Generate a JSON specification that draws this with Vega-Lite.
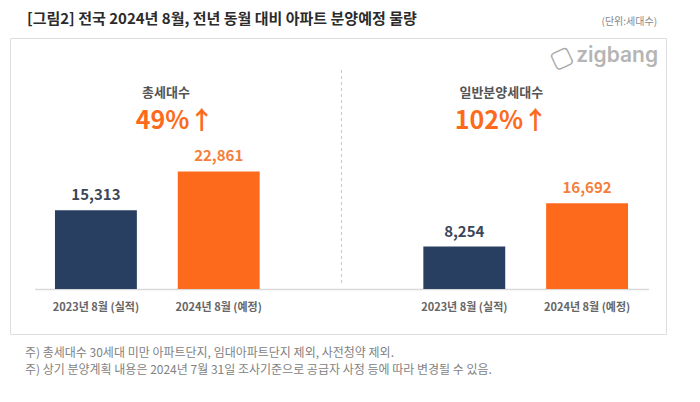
{
  "$schema": "https://vega.github.io/schema/vega-lite/v6.json",
  "width": 656,
  "height": 296,
  "autosize": {"type": "none"},
  "padding": {"left": 10, "top": 38, "right": 34, "bottom": 68},
  "background": "white",
  "view": {"stroke": "#dedede", "strokeWidth": 1},
  "config": {"font": "Noto Sans CJK KR"},
  "title": {
    "text": "[그림2] 전국 2024년 8월, 전년 동월 대비 아파트 분양예정 물량",
    "anchor": "start",
    "frame": "group",
    "dx": 17,
    "dy": 21,
    "offset": 11,
    "fontSize": 15,
    "fontWeight": "bold",
    "font": "Noto Sans CJK KR",
    "color": "#2b2b2b"
  },
  "datasets": {
    "bars": [
      {"key": "총세대수|2023년 8월 (실적)", "panel": "총세대수", "period": "2023년 8월 (실적)", "value": 15313},
      {"key": "총세대수|2024년 8월 (예정)", "panel": "총세대수", "period": "2024년 8월 (예정)", "value": 22861},
      {"key": "일반분양세대수|2023년 8월 (실적)", "panel": "일반분양세대수", "period": "2023년 8월 (실적)", "value": 8254},
      {"key": "일반분양세대수|2024년 8월 (예정)", "panel": "일반분양세대수", "period": "2024년 8월 (예정)", "value": 16692}
    ],
    "headers": [
      {"key": "총세대수|2023년 8월 (실적)", "panel": "총세대수", "pct": "49%↑"},
      {"key": "일반분양세대수|2023년 8월 (실적)", "panel": "일반분양세대수", "pct": "102%↑"}
    ]
  },
  "encoding": {
    "x": {
      "field": "key",
      "type": "nominal",
      "sort": null,
      "scale": {
        "type": "band",
        "domain": ["총세대수|2023년 8월 (실적)", "총세대수|2024년 8월 (예정)", "gap|", "일반분양세대수|2023년 8월 (실적)", "일반분양세대수|2024년 8월 (예정)"],
        "range": [24.5, 638.5],
        "paddingInner": 0.333,
        "paddingOuter": 0.1667
      },
      "axis": {
        "orient": "bottom",
        "offset": -45,
        "title": null,
        "ticks": false,
        "grid": false,
        "domainColor": "#d9d9d9",
        "domainWidth": 1.5,
        "labelAngle": 0,
        "labelExpr": "split(datum.value, '|')[1]",
        "labelFont": "Noto Sans CJK KR",
        "labelFontSize": 11,
        "labelFontWeight": "bold",
        "labelColor": "#666666",
        "labelPadding": 12
      }
    },
    "y": {
      "type": "quantitative",
      "scale": {"domain": [-8750, 48800], "nice": false, "zero": false},
      "axis": null
    }
  },
  "layer": [
    {
      "data": {"name": "bars"},
      "mark": {"type": "bar"},
      "encoding": {
        "y": {"field": "value", "type": "quantitative"},
        "color": {
          "field": "period",
          "type": "nominal",
          "scale": {"domain": ["2023년 8월 (실적)", "2024년 8월 (예정)"], "range": ["#283f61", "#fd6a1b"]},
          "legend": null
        }
      }
    },
    {
      "data": {"name": "bars"},
      "mark": {"type": "text", "baseline": "middle", "dy": -15, "fontSize": 15, "fontWeight": "bold", "font": "Noto Sans CJK KR"},
      "encoding": {
        "y": {"field": "value", "type": "quantitative"},
        "text": {"field": "value", "type": "quantitative", "format": ","},
        "color": {
          "condition": {"test": "datum.period == '2023년 8월 (실적)'", "value": "#3b4758"},
          "value": "#f47f3a"
        }
      }
    },
    {
      "data": {"name": "headers"},
      "transform": [{"filter": "datum.panel == '총세대수'"}],
      "mark": {"type": "text", "baseline": "middle", "align": "center", "dx": 70, "fontSize": 13, "fontWeight": "bold", "color": "#555555"},
      "encoding": {
        "y": {"datum": 38102},
        "text": {"field": "panel", "type": "nominal"}
      }
    },
    {
      "data": {"name": "headers"},
      "transform": [{"filter": "datum.panel == '총세대수'"}],
      "mark": {"type": "text", "baseline": "middle", "align": "center", "dx": 79, "fontSize": 25, "fontWeight": "bold", "color": "#fd6a1b"},
      "encoding": {
        "y": {"datum": 32660},
        "text": {"field": "pct", "type": "nominal"}
      }
    },
    {
      "data": {"name": "headers"},
      "transform": [{"filter": "datum.panel == '일반분양세대수'"}],
      "mark": {"type": "text", "baseline": "middle", "align": "center", "dx": 37, "fontSize": 13, "fontWeight": "bold", "color": "#555555"},
      "encoding": {
        "y": {"datum": 38102},
        "text": {"field": "panel", "type": "nominal"}
      }
    },
    {
      "data": {"name": "headers"},
      "transform": [{"filter": "datum.panel == '일반분양세대수'"}],
      "mark": {"type": "text", "baseline": "middle", "align": "center", "dx": 37, "fontSize": 25, "fontWeight": "bold", "color": "#fd6a1b"},
      "encoding": {
        "y": {"datum": 32660},
        "text": {"field": "pct", "type": "nominal"}
      }
    },
    {
      "data": {"values": [{}]},
      "mark": {"type": "rule", "color": "#c8c8c8", "strokeWidth": 1, "strokeDash": [3, 3]},
      "encoding": {
        "x": {"datum": "gap|"},
        "y": {"datum": 42574},
        "y2": {"datum": 778}
      }
    },
    {
      "data": {"values": [{}]},
      "mark": {"type": "text", "align": "right", "baseline": "middle", "dx": 71, "fontSize": 21, "fontWeight": 600, "font": "Inter", "color": "#b5b5b5", "text": "zigbang"},
      "encoding": {
        "x": {"datum": "일반분양세대수|2024년 8월 (예정)"},
        "y": {"datum": 45295}
      }
    },
    {
      "data": {"values": [{}]},
      "mark": {"type": "text", "align": "center", "baseline": "middle", "dx": -24, "dy": -9, "angle": -25, "fontSize": 24, "font": "DejaVu Sans", "color": "#a8a8a8", "text": "▢"},
      "encoding": {
        "x": {"datum": "일반분양세대수|2024년 8월 (예정)"},
        "y": {"datum": 45295}
      }
    },
    {
      "data": {"values": [{}]},
      "mark": {"type": "text", "align": "right", "baseline": "middle", "dx": 70, "fontSize": 10, "color": "#888888", "text": "(단위:세대수)"},
      "encoding": {
        "x": {"datum": "일반분양세대수|2024년 8월 (예정)"},
        "y": {"datum": 51905}
      }
    },
    {
      "data": {"values": [{}]},
      "mark": {
        "type": "text",
        "align": "left",
        "baseline": "top",
        "dx": -71,
        "fontSize": 12,
        "lineHeight": 17,
        "color": "#828282",
        "text": ["주) 총세대수 30세대 미만 아파트단지, 임대아파트단지 제외, 사전청약 제외.", "주) 상기 분양계획 내용은 2024년 7월 31일 조사기준으로 공급자 사정 등에 따라 변경될 수 있음."]
      },
      "encoding": {
        "x": {"datum": "총세대수|2023년 8월 (실적)"},
        "y": {"datum": -11470}
      }
    }
  ]
}
